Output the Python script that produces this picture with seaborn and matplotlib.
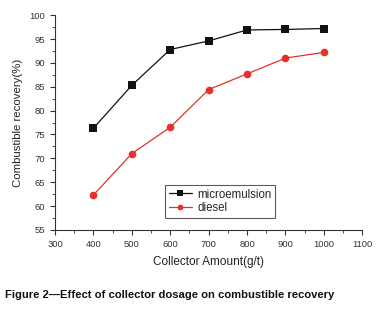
import pandas as pd
import matplotlib.pyplot as plt
import seaborn as sns
from matplotlib.ticker import MultipleLocator

# Data
amount = [400, 500, 600, 700, 800, 900, 1000]
microemulsion = [76.3, 85.3, 92.8, 94.6, 96.9, 97.0, 97.2]
diesel = [62.3, 71.0, 76.5, 84.4, 87.7, 91.0, 92.2]

df = pd.DataFrame({
    'Collector Amount(g/t)': amount * 2,
    'Recovery': microemulsion + diesel,
    'Collector': ['microemulsion'] * len(amount) + ['diesel'] * len(amount),
})

sns.set_style('white')
plt.rcParams['font.family'] = ['Liberation Sans', 'DejaVu Sans']

fig = plt.figure(figsize=(3.78, 3.09), dpi=100)
ax = fig.add_axes([0.1455, 0.256, 0.813, 0.695])

sns.lineplot(data=df, x='Collector Amount(g/t)', y='Recovery', hue='Collector',
             style='Collector', markers={'microemulsion': 's', 'diesel': 'o'},
             dashes=False, palette={'microemulsion': '#111111', 'diesel': '#e8302a'},
             markersize=5.5, linewidth=0.9, markeredgewidth=0, ax=ax)

ax.set_xlim(300, 1100)
ax.set_ylim(55, 100)
ax.xaxis.set_major_locator(MultipleLocator(100))
ax.xaxis.set_minor_locator(MultipleLocator(50))
ax.yaxis.set_major_locator(MultipleLocator(5))
ax.yaxis.set_minor_locator(MultipleLocator(2.5))
ax.tick_params(which='major', direction='out', length=3.5, width=0.8,
               labelsize=6.8, colors='#333333', left=True, bottom=True)
ax.tick_params(which='minor', direction='out', length=2, width=0.6,
               left=True, bottom=True, colors='#333333')
for side in ['top', 'right']:
    ax.spines[side].set_visible(False)
for side in ['left', 'bottom']:
    ax.spines[side].set_color('#333333')
    ax.spines[side].set_linewidth(0.8)

ax.set_xlabel('Collector Amount(g/t)', fontsize=8.5, color='#222222', labelpad=5)
ax.set_ylabel('Combustible recovery(%)', fontsize=8.2, color='#222222', labelpad=5)

leg = ax.legend(loc='lower right', bbox_to_anchor=(0.735, 0.03), fontsize=8.3,
                frameon=True, fancybox=False, edgecolor='#333333',
                handlelength=2, handletextpad=0.5, markerscale=0.75,
                borderpad=0.3, labelspacing=0.15)
leg.get_frame().set_linewidth(0.8)

fig.text(0.013, 0.035, 'Figure 2\u2014Effect of collector dosage on combustible recovery',
         fontsize=8.1, fontweight='bold', color='#111111')

fig.savefig('out.png', dpi=100)
